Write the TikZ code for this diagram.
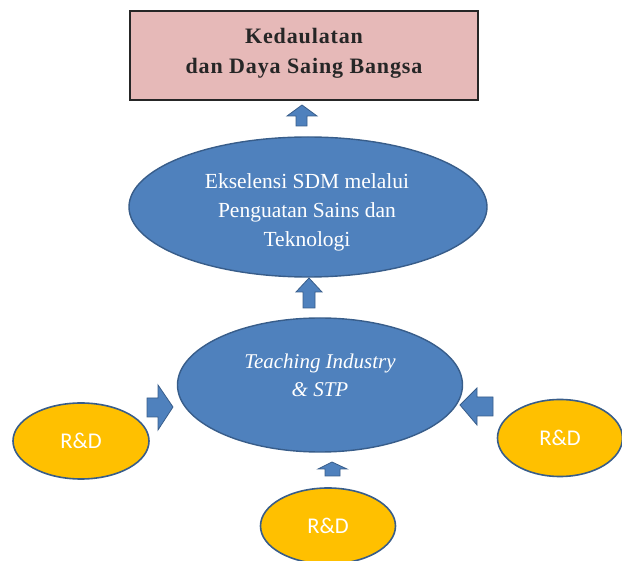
\documentclass[tikz,border=0pt]{standalone}
\usepackage{fontspec}
\setmainfont{Liberation Serif}
\newfontfamily\calfont{Carlito}
\usetikzlibrary{shapes.geometric}
\definecolor{obluefill}{HTML}{4F81BD}
\definecolor{oblueline}{HTML}{385D8A}
\definecolor{ogold}{HTML}{FFC000}
\definecolor{opink}{HTML}{E6B9B8}
\definecolor{odark}{HTML}{262626}
\tikzset{
  x=1pt, y=-1pt,
  goalbox/.style={draw=odark, line width=1.6pt, fill=opink, inner sep=0pt},
  blueell/.style={ellipse, draw=oblueline, line width=1.4pt, fill=obluefill, inner sep=0pt},
  bluetext/.style={text=white, align=center, inner sep=0pt},
  rdell/.style={ellipse, draw=oblueline, line width=1.6pt, fill=ogold, inner sep=0pt, text=white, font=\calfont\fontsize{22.5}{26}\selectfont},
  blockarrow/.style={draw=oblueline, line width=0.8pt, fill=obluefill, line join=miter},
}
\begin{document}
\begin{tikzpicture}
\useasboundingbox (0,0) rectangle (622,561);
% goal box
\draw[goalbox] (130,11) rectangle (478,100);
\node[font=\bfseries\fontsize{22}{30}\selectfont\addfontfeature{LetterSpace=4}, align=center, text=odark, inner sep=0pt] (goal) at (304,53) {Kedaulatan\\dan Daya Saing Bangsa};
% ellipses
\node[blueell, minimum width=358pt, minimum height=140pt] (sdm) at (308,207) {};
\node[bluetext, font=\fontsize{21.5}{29}\selectfont] (sdmtext) at (307,212) {Ekselensi SDM melalui\\Penguatan Sains dan\\Teknologi};
\node[blueell, minimum width=285pt, minimum height=134pt] (ti) at (320,385) {};
\node[bluetext, font=\itshape\fontsize{21}{28}\selectfont] (titext) at (320,375) {Teaching Industry\\\& STP};
\node[rdell, minimum width=136pt, minimum height=76pt] (rdl) at (81,441) {R\&D};
\node[rdell, minimum width=125pt, minimum height=77pt] (rdr) at (560,438) {R\&D};
\node[rdell, minimum width=135pt, minimum height=76pt] (rdb) at (328,526) {R\&D};
% block arrows
\draw[blockarrow] (296,126) -- (296,116) -- (287,116) -- (302,105) -- (317,116) -- (307,116) -- (307,126) -- cycle;
\draw[blockarrow] (303,308) -- (303,292) -- (296,292) -- (309,278) -- (322,292) -- (315,292) -- (315,308) -- cycle;
\draw[blockarrow] (147,398) -- (158,398) -- (158,385) -- (173,407) -- (158,430) -- (158,417) -- (147,417) -- cycle;
\draw[blockarrow] (493,397) -- (477,397) -- (477,388) -- (460,405) -- (477,425) -- (477,416) -- (493,416) -- cycle;
\draw[blockarrow] (325,476) -- (325,469) -- (318,469) -- (332,462) -- (347,469) -- (340,469) -- (340,476) -- cycle;
\end{tikzpicture}
\end{document}
